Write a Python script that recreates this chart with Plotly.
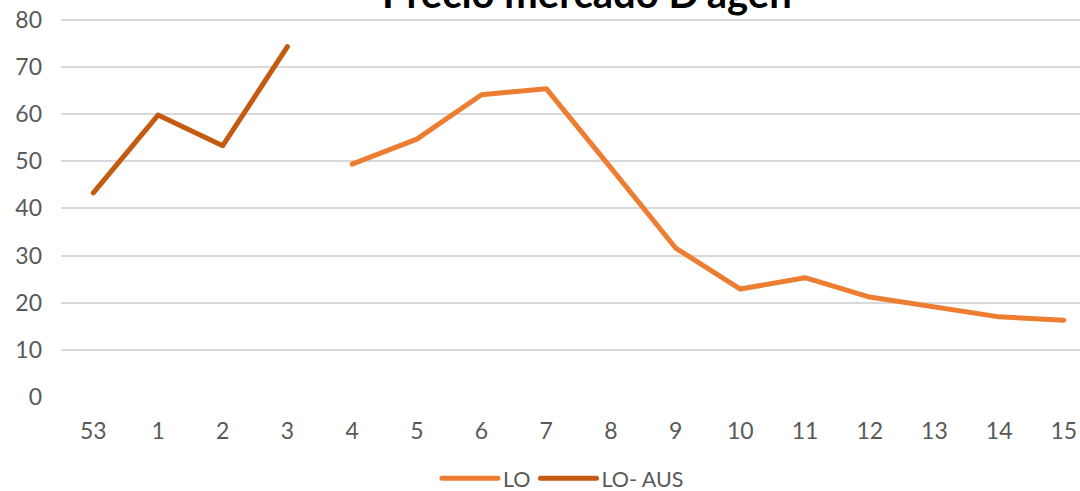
import plotly.graph_objects as go

weeks = ["53", "1", "2", "3", "4", "5", "6", "7", "8", "9", "10", "11", "12", "13", "14", "15"]
lo_aus_weeks = ["53", "1", "2", "3"]
lo_aus_values = [43.3, 59.8, 53.3, 74.3]
lo_weeks = ["4", "5", "6", "7", "8", "9", "10", "11", "12", "13", "14", "15"]
lo_values = [49.4, 54.7, 64.1, 65.4, 48.6, 31.6, 22.9, 25.3, 21.2, 19.1, 17.0, 16.3]
y_ticks = [0, 10, 20, 30, 40, 50, 60, 70, 80]
title_text = "Precio mercado D'agen"

FONT = "Lato"
GRAY = "#595959"

fig = go.Figure()
fig.add_trace(go.Scatter(x=lo_weeks, y=lo_values, mode="lines", name="LO",
                         line=dict(color="#ED7D31", width=5)))
fig.add_trace(go.Scatter(x=lo_aus_weeks, y=lo_aus_values, mode="lines", name="LO- AUS",
                         line=dict(color="#C55A11", width=5)))

fig.update_layout(
    width=1080, height=491,
    margin=dict(l=61, r=0, t=17, b=94),
    paper_bgcolor="white", plot_bgcolor="white",
    font=dict(family=FONT, size=23, color=GRAY),
    showlegend=True,
    legend=dict(orientation="h", xref="paper", x=0.4926, xanchor="center",
                yref="container", y=0.026, yanchor="middle",
                itemwidth=56,
                font=dict(family=FONT, size=21.5, color=GRAY), bgcolor="rgba(0,0,0,0)"),
    xaxis=dict(type="category", categoryorder="array", categoryarray=weeks,
               range=[-0.5, 15.25], showgrid=False, zeroline=False, showline=False,
               automargin=False, ticklabeloverflow="allow",
               ticks="", ticklabelstandoff=18, tickfont=dict(family=FONT, size=23, color=GRAY)),
    yaxis=dict(range=[0, 80.6], tickvals=y_ticks, showgrid=True, gridcolor="#d9d9d9", gridwidth=1.5,
               zeroline=False, showline=False, ticks="", ticklabelstandoff=18, automargin=False,
               ticklabeloverflow="allow",
               tickfont=dict(family=FONT, size=23, color=GRAY)),
    annotations=[dict(text="<b>" + title_text + "</b>", xref="paper", yref="paper",
                      x=0.516, y=1, xanchor="center", yanchor="bottom", yshift=-2,
                      showarrow=False, font=dict(family=FONT, size=40, color="black"))],
)

post_js = (
    "document.body.style.margin='0';document.body.style.overflow='hidden';"
    "document.querySelectorAll('.scatterlayer path.js-line, .legend path.js-line').forEach(function(p){"
    "p.style.strokeLinecap='round';p.style.strokeLinejoin='round';});"
)

fig.write_html("out.html", config={"displayModeBar": False}, post_script=post_js)
